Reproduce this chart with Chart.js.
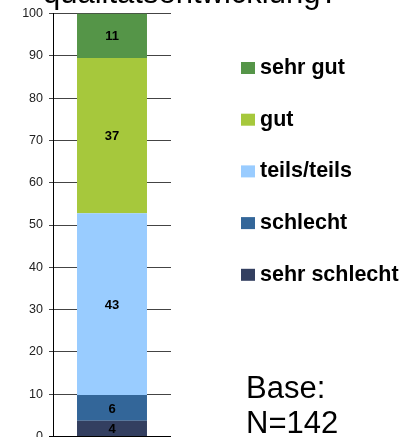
<!DOCTYPE html>
<html>
<head>
<meta charset="utf-8">
<script src="https://cdn.jsdelivr.net/npm/chart.js@4/dist/chart.umd.min.js"></script>
<style>
  html, body { margin: 0; padding: 0; overflow: hidden; background: #fff; }
  #wrap { position: relative; width: 408px; height: 460px; }
</style>
</head>
<body>
<div id="wrap"><canvas id="c" width="408" height="460"></canvas></div>
<script>
// ---- data ----
const categories = ["Gesamt"];
const seriesLabels = ["sehr schlecht", "schlecht", "teils/teils", "gut", "sehr gut"];
const seriesValues = [3.7, 6.1, 43.0, 36.7, 10.5];
const seriesColors = ["#333f60", "#336699", "#99ccff", "#a6c83c", "#559548"];
const yTicks = [0, 10, 20, 30, 40, 50, 60, 70, 80, 90, 100];
const titleText = "qualitätsentwicklung?";
const baseLines = ["Base:", "N=142"];

const FONT = '"Liberation Sans", Arial, sans-serif';

const datasets = seriesLabels.map((lab, i) => ({
  label: lab,
  data: [seriesValues[i]],
  backgroundColor: seriesColors[i],
  borderWidth: 0,
  categoryPercentage: 1,
  barPercentage: 0.593
}));

const valueLabels = {
  id: 'valueLabels',
  afterDatasetsDraw(chart) {
    const ctx = chart.ctx;
    ctx.save();
    ctx.font = 'bold 13px ' + FONT;
    ctx.fillStyle = '#000';
    ctx.textAlign = 'center';
    ctx.textBaseline = 'middle';
    chart.data.datasets.forEach((ds, i) => {
      const meta = chart.getDatasetMeta(i);
      meta.data.forEach((el, j) => {
        const v = ds.data[j];
        const yc = (el.y + el.base) / 2;
        ctx.fillText(String(Math.round(v)), el.x, yc + 1);
      });
    });
    ctx.restore();
  }
};

const extras = {
  id: 'extras',
  afterDraw(chart) {
    const ctx = chart.ctx;
    ctx.save();
    // title (cut off at top)
    ctx.font = '31px ' + FONT;
    ctx.fillStyle = '#000';
    ctx.textAlign = 'left';
    ctx.textBaseline = 'alphabetic';
    ctx.fillText(titleText, 43, 3);
    // legend (reverse order)
    const n = chart.data.datasets.length;
    ctx.font = 'bold 21.5px ' + FONT;
    for (let k = 0; k < n; k++) {
      const ds = chart.data.datasets[n - 1 - k];
      const bottom = 74 + k * 51.7;
      ctx.fillStyle = ds.backgroundColor;
      ctx.fillRect(241, bottom - 12, 14, 12);
      ctx.fillStyle = '#000';
      ctx.fillText(ds.label, 260, bottom);
    }
    // base text
    ctx.font = '31px ' + FONT;
    ctx.fillText(baseLines[0], 246, 398);
    ctx.fillText(baseLines[1], 246, 433);
    ctx.restore();
  }
};

new Chart(document.getElementById('c'), {
  type: 'bar',
  data: { labels: categories, datasets },
  options: {
    responsive: false,
    animation: false,
    layout: { padding: { left: 0, right: 237, top: 11, bottom: 23.5 } },
    plugins: { legend: { display: false }, tooltip: { enabled: false }, title: { display: false } },
    scales: {
      x: { stacked: true, display: false },
      y: {
        stacked: true,
        min: 0,
        max: 100,
        afterFit(scale) { scale.width = 53; },
        afterBuildTicks(scale) { scale.ticks = yTicks.map(v => ({ value: v })); },
        ticks: {
          padding: 6,
          color: '#222',
          font: { family: FONT, size: 12.5 }
        },
        grid: {
          color: ctx => (ctx.tick && ctx.tick.value === 0) ? '#000' : '#444',
          lineWidth: 1,
          tickLength: 4,
          drawTicks: true
        },
        border: { display: true, color: '#000', width: 1 }
      }
    }
  },
  plugins: [valueLabels, extras]
});
</script>
</body>
</html>
